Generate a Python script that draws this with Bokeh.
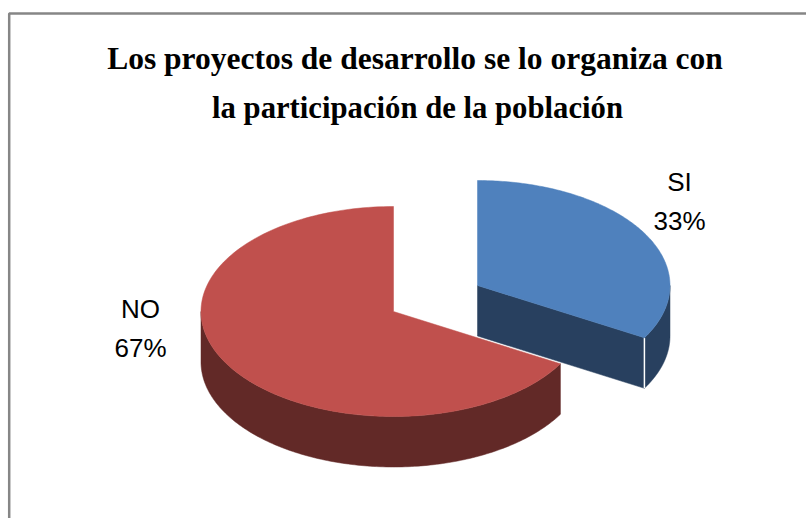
import numpy as np
from bokeh.plotting import figure
from bokeh.models import Range1d, Label
from bokeh.embed import file_html
from bokeh.resources import INLINE

title_lines = ["Los proyectos de desarrollo se lo organiza con", "la participación de la población"]
categories = ["SI", "NO"]
percent = [33.3, 66.7]
percent_labels = ["33%", "67%"]
top_colors = ["#4F81BD", "#C0504D"]
side_colors = ["#28405F", "#622927"]

W, H = 806, 518
p = figure(width=W, height=H, x_range=Range1d(0, W), y_range=Range1d(H, 0),
           output_backend="svg", toolbar_location=None, min_border=0,
           outline_line_color=None, background_fill_color="white", border_fill_color="white")
p.xaxis.visible = False
p.yaxis.visible = False
p.grid.visible = False

# chart frame: only the left and top edges fall inside the picture
p.line([8.7, 8.7, 806], [518, 13, 13], line_color="#868686", line_width=2.5)

RX, RY, DEPTH = 192.5, 105.0, 50.5
centres = [(477.0, 285.0), (393.0, 311.0)]

def arc(cx, cy, a0, a1, n=160):
    t = np.radians(np.linspace(a0, a1, n))
    return cx + RX * np.sin(t), cy - RY * np.cos(t)

sweeps = []
start = 0.0
for v in percent:
    sweeps.append((start, start + v * 3.6))
    start += v * 3.6

for i in [1, 0]:
    cx, cy = centres[i]
    a0, a1 = sweeps[i]
    if i == 0:
        ax, ay = arc(cx, cy, 90, a1)
        xs = np.r_[ax, ax[::-1]]
        ys = np.r_[ay, ay[::-1] + DEPTH]
        p.patch(xs, ys, fill_color=side_colors[i], line_color=side_colors[i], line_width=0.5)
        ex, ey = arc(cx, cy, a1, a1, 1)
        p.patch([cx, ex[0], ex[0], cx], [cy, ey[0], ey[0] + DEPTH, cy + DEPTH],
                fill_color=side_colors[i], line_color=side_colors[i], line_width=0.5)
        p.line([ex[0], ex[0]], [ey[0], ey[0] + DEPTH], line_color="white", line_width=1.5)
    else:
        ax, ay = arc(cx, cy, a0, 270)
        xs = np.r_[ax, ax[::-1]]
        ys = np.r_[ay, ay[::-1] + DEPTH]
        p.patch(xs, ys, fill_color=side_colors[i], line_color=side_colors[i], line_width=0.5)
    ax, ay = arc(cx, cy, a0, a1)
    p.patch(np.r_[cx, ax], np.r_[cy, ay], fill_color=top_colors[i], line_color=top_colors[i], line_width=0.5)

for tx, ty, size, line in zip([414.5, 417], [58, 107], ["31.5px", "30.7px"], title_lines):
    p.add_layout(Label(x=tx, y=ty, text=line, text_font="Liberation Serif", text_font_size=size,
                       text_font_style="bold", text_color="black", text_align="center",
                       text_baseline="middle"))

for lx, ly, name, pct in [(679, 181, categories[0], percent_labels[0]), (140, 308, categories[1], percent_labels[1])]:
    p.add_layout(Label(x=lx, y=ly, text=name, text_font="Liberation Sans", text_font_size="26px",
                       text_color="black", text_align="center", text_baseline="middle"))
    p.add_layout(Label(x=lx, y=ly + 39, text=pct, text_font="Liberation Sans", text_font_size="26px",
                       text_color="black", text_align="center", text_baseline="middle"))

open("out.html", "w").write(file_html(p, INLINE))
